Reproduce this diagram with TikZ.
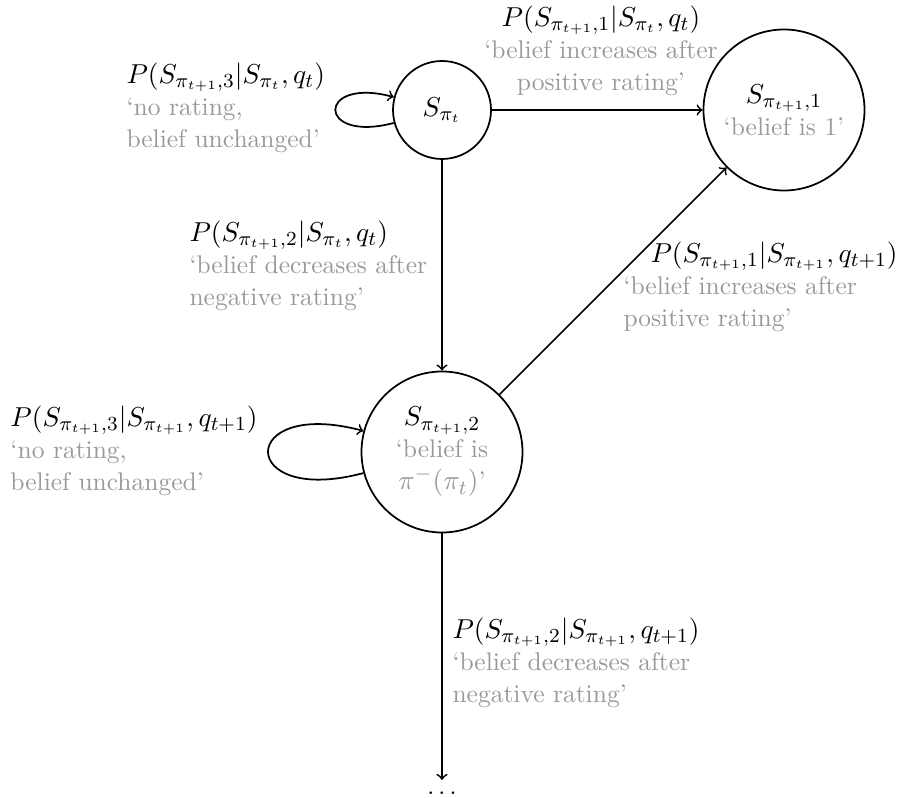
\documentclass[tikz,border=0pt]{standalone}
\definecolor{lg}{gray}{0.6}
\newcommand\gtx[1]{\textcolor{lg}{#1}}
\newcommand\mth[1]{{\fontsize{10.8}{12.8}\selectfont$#1$}}
\begin{document}
\begin{tikzpicture}[x=0.4pt,y=-0.4pt,
  font=\fontsize{10.2}{12.8}\selectfont,
  state/.style={circle,draw,line width=0.7pt,inner sep=0pt,align=center},
  lbl/.style={inner sep=0pt,align=left,anchor=north west},
  conn/.style={->,line width=0.7pt}]
\useasboundingbox (0,0) rectangle (901,798);
\node[state,minimum size=39.2pt] (A) at (442,110) {\mth{S_{\pi_t}}};
\node[state,minimum size=64.4pt] (B) at (784,110) {\mth{S_{\pi_{t+1},1}}\\\gtx{`belief is 1'}};
\node[state,minimum size=64.4pt] (C) at (442,452) {\mth{S_{\pi_{t+1},2}}\\\gtx{`belief is}\\\gtx{\mth{\pi^-(\pi_t)}'}};
\node[anchor=base,inner sep=0pt] (D) at (442,795) {$\dots$};
\coordinate (Dtop) at (442,780);
\draw[conn] (A) -- (B);
\draw[conn] (A) -- (C);
\draw[conn] (C) -- (B);
\draw[conn] (C) -- (Dtop);
\draw[conn] (A) to[loop left] (A);
\draw[conn] (C) to[loop left] (C);
\node[inner sep=0pt,align=center,anchor=north] (L1) at (601,5)
  {\mth{P(S_{\pi_{t+1},1}|S_{\pi_t},q_t)}\\\gtx{`belief increases after}\\\gtx{positive rating'}};
\node[lbl] (L2) at (126,62)
  {\mth{P(S_{\pi_{t+1},3}|S_{\pi_t},q_t)}\\\gtx{`no rating,}\\\gtx{belief unchanged'}};
\node[lbl] (L3) at (189,220)
  {\mth{P(S_{\pi_{t+1},2}|S_{\pi_t},q_t)}\\\gtx{`belief decreases after}\\\gtx{negative rating'}};
\node[lbl] (L4) at (623,241)
  {\hspace*{10.8pt}\mth{P(S_{\pi_{t+1},1}|S_{\pi_{t+1}},q_{t+1})}\\\gtx{`belief increases after}\\\gtx{positive rating'}};
\node[lbl] (L5) at (10,405)
  {\mth{P(S_{\pi_{t+1},3}|S_{\pi_{t+1}},q_{t+1})}\\\gtx{`no rating,}\\\gtx{belief unchanged'}};
\node[lbl] (L6) at (452,617)
  {\mth{P(S_{\pi_{t+1},2}|S_{\pi_{t+1}},q_{t+1})}\\\gtx{`belief decreases after}\\\gtx{negative rating'}};
\end{tikzpicture}
\end{document}
